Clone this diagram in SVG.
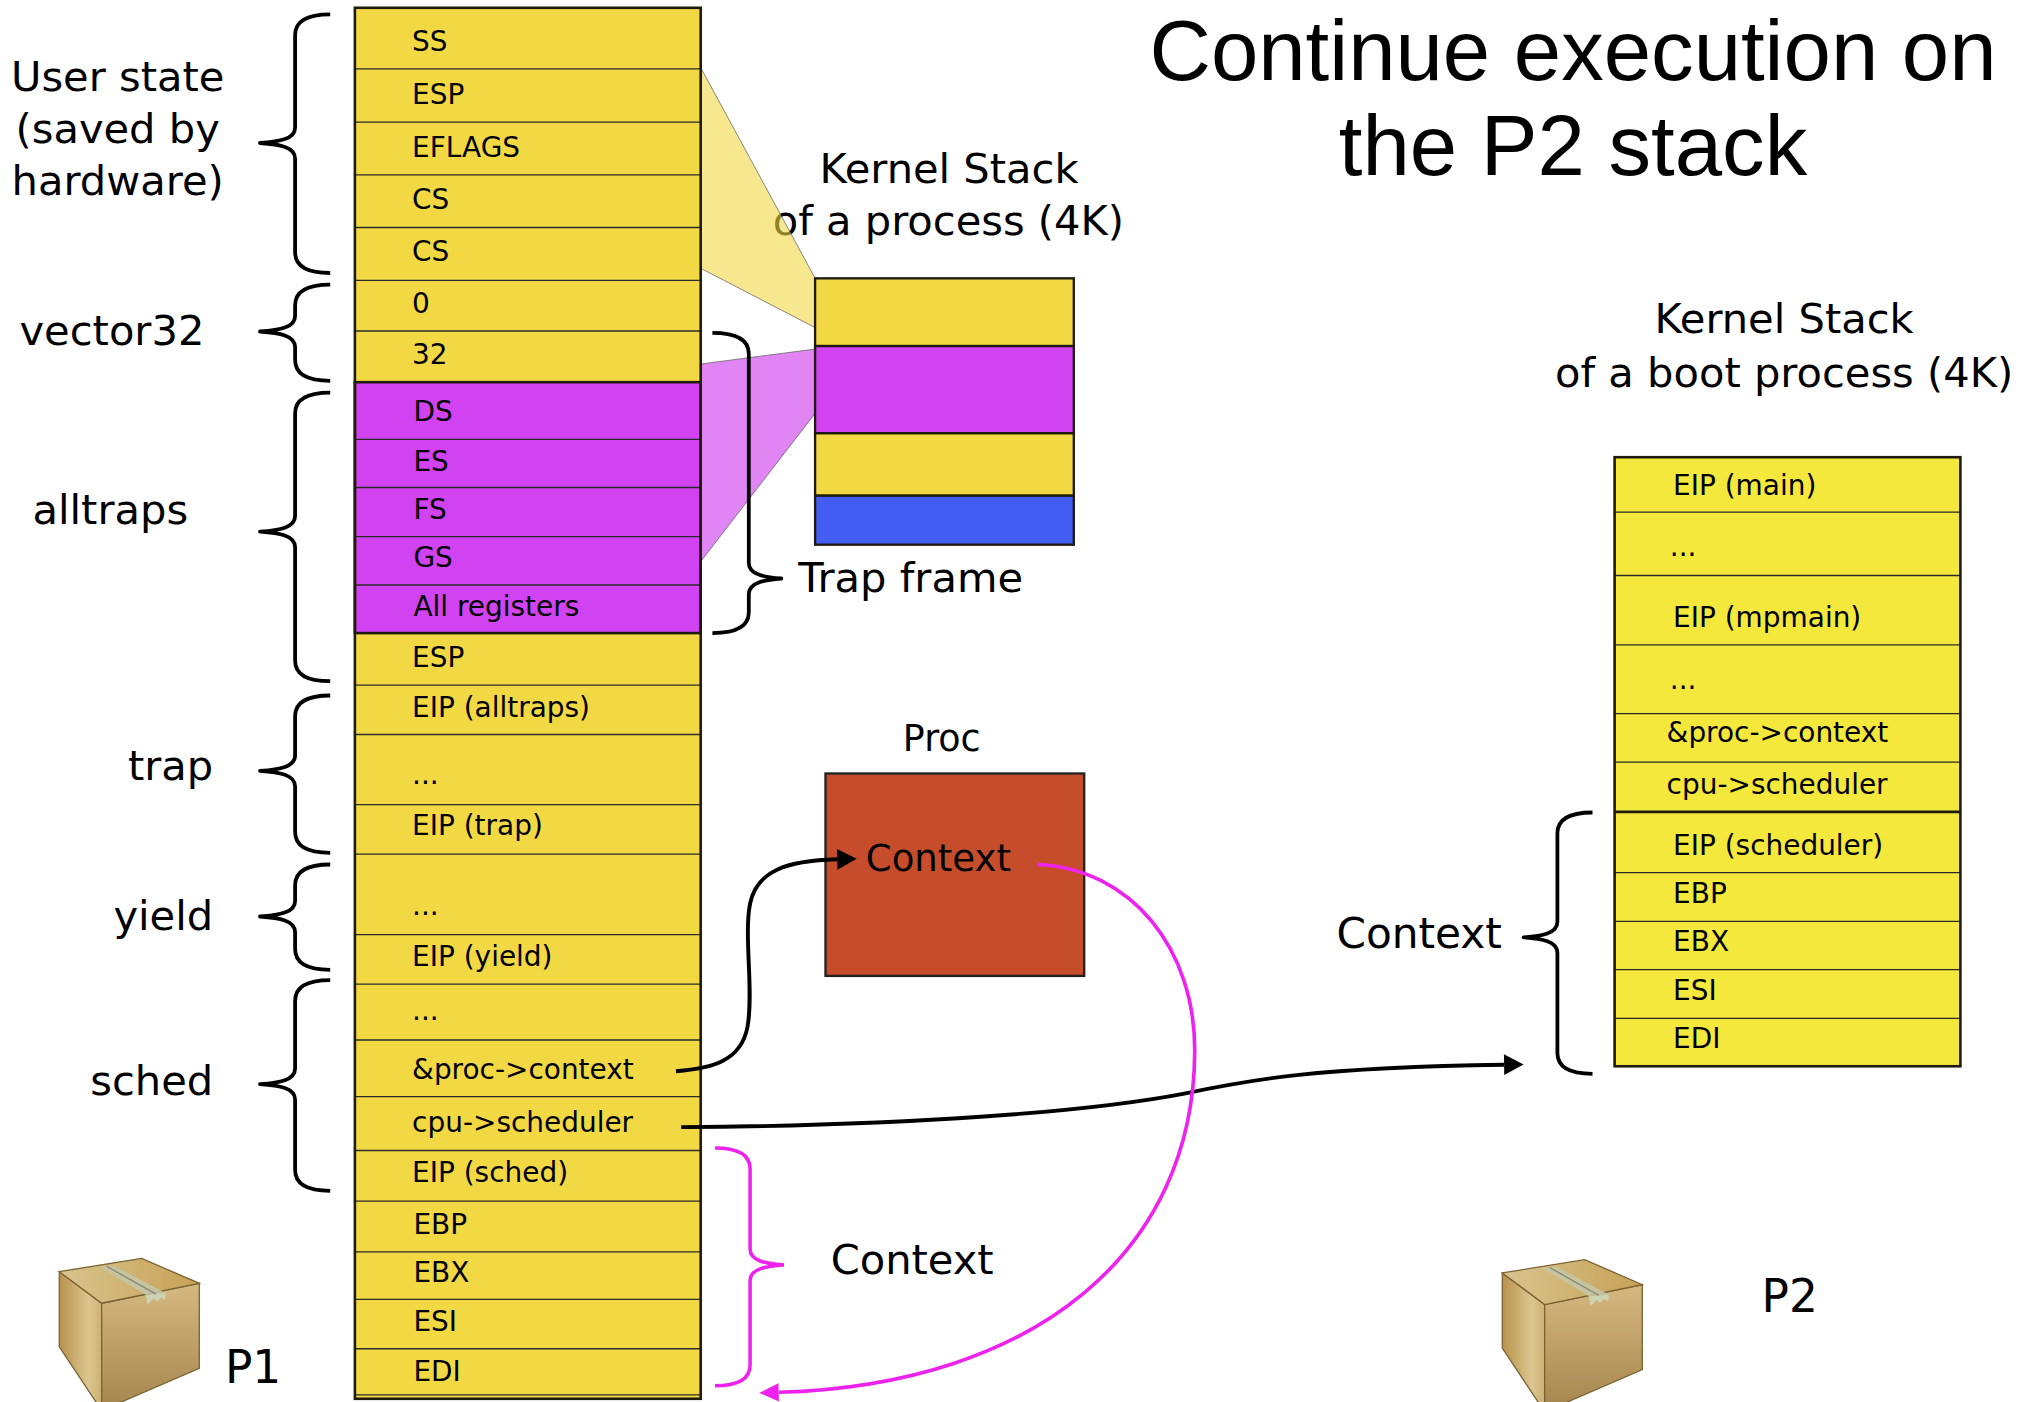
<svg xmlns="http://www.w3.org/2000/svg" width="2037" height="1402" viewBox="0 0 2037 1402">
<style>
.t{font-family:"DejaVu Sans","Noto Sans",sans-serif;fill:#000}
.row{font-size:21.5px}
.lbl{font-size:32px}
.title{font-family:"Liberation Sans",Arial,sans-serif;font-size:65.5px;text-anchor:middle;fill:#000}
.mid{text-anchor:middle}
.end{text-anchor:end}
.brace{fill:none;stroke:#000;stroke-width:2.9;stroke-linejoin:round}
.mbrace{fill:none;stroke:#ee22ee;stroke-width:2.7}
.ln{stroke:#2a2a2a;stroke-width:1}
.thick{stroke:#1e1a0e;stroke-width:2}
.cell{stroke:#1e1a0e;stroke-width:1.8}
.arrow{fill:none;stroke:#000;stroke-width:3}
.marrow{fill:none;stroke:#ee22ee;stroke-width:2.8}
</style>
<defs>
<marker id="ah" markerUnits="userSpaceOnUse" markerWidth="16" markerHeight="18" refX="0" refY="8" orient="auto" overflow="visible">
<path d="M0,0 L15,8 L0,16 z" fill="#000"/>
</marker>
<marker id="mah" markerUnits="userSpaceOnUse" markerWidth="16" markerHeight="18" refX="0" refY="7" orient="auto" overflow="visible">
<path d="M0,0 L15,7 L0,14 z" fill="#ee22ee"/>
</marker>
<linearGradient id="gTop" x1="0" y1="0" x2="1" y2="0">
<stop offset="0" stop-color="#d9c48f"/><stop offset="1" stop-color="#c6a255"/>
</linearGradient>
<linearGradient id="gLeft" x1="0" y1="0" x2="1" y2="0">
<stop offset="0" stop-color="#b8924c"/><stop offset="0.7" stop-color="#dcc690"/><stop offset="1" stop-color="#cdb073"/>
</linearGradient>
<linearGradient id="gFront" x1="0" y1="0" x2="0" y2="1">
<stop offset="0" stop-color="#d6b980"/><stop offset="1" stop-color="#a4854d"/>
</linearGradient>
<g id="box">
<polygon points="45.6,978.2 78.2,1002.5 78.2,1085 45.6,1036" fill="url(#gLeft)" stroke="#7a6232" stroke-width="1"/>
<polygon points="78.2,1002.5 153.3,987.2 153.3,1052.5 78.2,1085" fill="url(#gFront)" stroke="#7a6232" stroke-width="1"/>
<polygon points="45.6,978.2 109,968 153.3,987.2 78.2,1002.5" fill="url(#gTop)" stroke="#7a6232" stroke-width="1"/>
<polygon points="76.4,974.4 87.7,973.8 127.7,994.9 112.3,996.2" fill="#c4c6a6" opacity="0.9"/>
<polygon points="112.3,996.2 127.7,994.9 127,1000 124,998 121,1001 118,999 115,1002 113.3,1003" fill="#ccd4b4"/>
<line x1="82" y1="974" x2="120" y2="995.5" stroke="#8a8470" stroke-width="1"/>
</g>
</defs>
<rect width="2037" height="1402" fill="#fff"/>
<g transform="scale(1.3)">

<g id="title">
<text class="title" x="1210" y="61.5">Continue execution on</text>
<text class="title" x="1210" y="134.6">the P2 stack</text>
</g>

<g id="left-labels">
<text class="t lbl mid" x="90.5" y="69.8">User state</text>
<text class="t lbl mid" x="90.5" y="110">(saved by</text>
<text class="t lbl mid" x="90.5" y="150.3">hardware)</text>
<text class="t lbl" x="15" y="265.6">vector32</text>
<text class="t lbl" x="25" y="403">alltraps</text>
<text class="t lbl end" x="164" y="600.2">trap</text>
<text class="t lbl end" x="164" y="715.7">yield</text>
<text class="t lbl end" x="164" y="842.2">sched</text>
<path class="brace" d="M254,11 C238,11 227,15 227,27 L227,98 C227,107 215,109 200,110 C215,111 227,113 227,122 L227,194 C227,206 238,210 254,210"/>
<path class="brace" d="M254,219 C238,219 227,223 227,235 L227,243 C227,252 215,254 200,255 C215,256 227,258 227,267 L227,277 C227,289 238,293 254,293"/>
<path class="brace" d="M254,302 C238,302 227,306 227,318 L227,397 C227,406 215,408 200,409 C215,410 227,412 227,421 L227,508 C227,520 238,524 254,524"/>
<path class="brace" d="M254,535 C238,535 227,539 227,551 L227,581 C227,590 215,592 200,593 C215,594 227,596 227,605 L227,640 C227,652 238,656 254,656"/>
<path class="brace" d="M254,665 C238,665 227,669 227,681 L227,693 C227,702 215,704 200,705 C215,706 227,708 227,717 L227,730 C227,742 238,746 254,746"/>
<path class="brace" d="M254,754 C238,754 227,758 227,770 L227,822 C227,831 215,833 200,834 C215,835 227,837 227,846 L227,900 C227,912 238,916 254,916"/>
</g>

<g id="kernel-stack-label">
<text class="t lbl mid" x="730" y="140.5">Kernel Stack</text>
<text class="t lbl mid" x="729.5" y="180.5">of a process (4K)</text>
</g>

<g id="fans">
<polygon points="539,52 627,214 627,252 539,206.4" fill="#f2d944" fill-opacity="0.6" stroke="#666" stroke-width="0.6"/>
<polygon points="539,280 627,268.5 627,318 539,432" fill="#d143f0" fill-opacity="0.65" stroke="#666" stroke-width="0.6"/>
</g>

<g id="p1-stack">
<rect x="273" y="6" width="266" height="1070" fill="#f2d944"/>
<rect x="273" y="294" width="266" height="193" fill="#d143f0"/>
<g class="ln">
<line x1="273" y1="53" x2="539" y2="53"/>
<line x1="273" y1="94" x2="539" y2="94"/>
<line x1="273" y1="134.5" x2="539" y2="134.5"/>
<line x1="273" y1="175" x2="539" y2="175"/>
<line x1="273" y1="215.7" x2="539" y2="215.7"/>
<line x1="273" y1="254.6" x2="539" y2="254.6"/>
<line x1="273" y1="338" x2="539" y2="338"/>
<line x1="273" y1="375" x2="539" y2="375"/>
<line x1="273" y1="412.8" x2="539" y2="412.8"/>
<line x1="273" y1="450" x2="539" y2="450"/>
<line x1="273" y1="527" x2="539" y2="527"/>
<line x1="273" y1="565" x2="539" y2="565"/>
<line x1="273" y1="619" x2="539" y2="619"/>
<line x1="273" y1="657" x2="539" y2="657"/>
<line x1="273" y1="719" x2="539" y2="719"/>
<line x1="273" y1="757" x2="539" y2="757"/>
<line x1="273" y1="800" x2="539" y2="800"/>
<line x1="273" y1="843.6" x2="539" y2="843.6"/>
<line x1="273" y1="885" x2="539" y2="885"/>
<line x1="273" y1="924" x2="539" y2="924"/>
<line x1="273" y1="963" x2="539" y2="963"/>
<line x1="273" y1="999.5" x2="539" y2="999.5"/>
<line x1="273" y1="1037.5" x2="539" y2="1037.5"/>
<line x1="273" y1="1073" x2="539" y2="1073"/>
</g>
<rect x="273" y="294" width="266" height="193" fill="none" class="thick"/>
<rect x="273" y="6" width="266" height="1070" fill="none" class="thick"/>
<g class="t row">
<text x="317" y="39.6">SS</text>
<text x="317" y="79.8">ESP</text>
<text x="317" y="120.4">EFLAGS</text>
<text x="317" y="160.6">CS</text>
<text x="317" y="201">CS</text>
<text x="317" y="241">0</text>
<text x="317" y="280">32</text>
<text x="318" y="324">DS</text>
<text x="318" y="362">ES</text>
<text x="318" y="399">FS</text>
<text x="318" y="436">GS</text>
<text x="318" y="474">All registers</text>
<text x="317" y="513">ESP</text>
<text x="317" y="551.5">EIP (alltraps)</text>
<text x="317" y="603">...</text>
<text x="317" y="642">EIP (trap)</text>
<text x="317" y="704">...</text>
<text x="317" y="743">EIP (yield)</text>
<text x="317" y="785">...</text>
<text x="317" y="830">&amp;proc-&gt;context</text>
<text x="317" y="871">cpu-&gt;scheduler</text>
<text x="317" y="909">EIP (sched)</text>
<text x="318" y="949">EBP</text>
<text x="318" y="986">EBX</text>
<text x="318" y="1024">ESI</text>
<text x="318" y="1062">EDI</text>
</g>
</g>

<g id="kernel-stack">
<rect x="627" y="214.1" width="199" height="52.1" fill="#f2d944" class="cell"/>
<rect x="627" y="266.2" width="199" height="67.1" fill="#d143f0" class="cell"/>
<rect x="627" y="333.3" width="199" height="48" fill="#f2d944" class="cell"/>
<rect x="627" y="381.3" width="199" height="37.7" fill="#435cf2" class="cell"/>
</g>

<g id="trap-frame">
<path class="brace" d="M548,256 C564,256 576,260 576,272 L576,433 C576,442 588,444 601,445 C588,446 576,448 576,457 L576,471 C576,483 564,487 548,487"/>
<text class="t lbl" x="614" y="455.6">Trap frame</text>
</g>

<g id="p1-context">
<path class="mbrace" d="M550,883 C566,883 577,887 577,899 L577,961 C577,970 589,972 603,973 C589,974 577,976 577,985 L577,1050 C577,1062 566,1066 550,1066"/>
<text class="t lbl" x="639" y="980">Context</text>
</g>

<g id="proc">
<text class="t mid" x="724.4" y="577.5" style="font-size:28px">Proc</text>
<rect x="635" y="595" width="199" height="155.7" fill="#c64d2b" stroke="#222" stroke-width="1.8"/>
<text class="t" x="666" y="670" style="font-size:28.5px">Context</text>
</g>

<g id="boot-stack">
<text class="t lbl mid" x="1372.4" y="256.4">Kernel Stack</text>
<text class="t lbl mid" x="1372.4" y="297.4">of a boot process (4K)</text>
<rect x="1242" y="351.7" width="266" height="468.5" fill="#f4e83c"/>
<g class="ln">
<line x1="1242" y1="393.9" x2="1508" y2="393.9"/>
<line x1="1242" y1="442.7" x2="1508" y2="442.7"/>
<line x1="1242" y1="496.1" x2="1508" y2="496.1"/>
<line x1="1242" y1="549" x2="1508" y2="549"/>
<line x1="1242" y1="586.2" x2="1508" y2="586.2"/>
<line x1="1242" y1="671.2" x2="1508" y2="671.2"/>
<line x1="1242" y1="708.8" x2="1508" y2="708.8"/>
<line x1="1242" y1="745.9" x2="1508" y2="745.9"/>
<line x1="1242" y1="783.4" x2="1508" y2="783.4"/>
</g>
<line x1="1242" y1="624.5" x2="1508" y2="624.5" class="thick"/>
<rect x="1242" y="351.7" width="266" height="468.5" fill="none" class="thick"/>
<g class="t row">
<text x="1287" y="381">EIP (main)</text>
<text x="1284.5" y="428">...</text>
<text x="1287" y="482.3">EIP (mpmain)</text>
<text x="1284.5" y="530">...</text>
<text x="1282" y="571">&amp;proc-&gt;context</text>
<text x="1282" y="610.8">cpu-&gt;scheduler</text>
<text x="1287" y="657.5">EIP (scheduler)</text>
<text x="1287" y="695">EBP</text>
<text x="1287" y="731.7">EBX</text>
<text x="1287" y="769.3">ESI</text>
<text x="1287" y="806.4">EDI</text>
</g>
</g>

<g id="boot-context">
<path class="brace" d="M1225,625 C1209,625 1198,629 1198,641 L1198,709 C1198,718 1186,720 1172,721 C1186,722 1198,724 1198,733 L1198,810 C1198,822 1209,826 1225,826"/>
<text class="t" x="1028" y="729" style="font-size:32.5px">Context</text>
</g>

<g id="p1">
<use href="#box"/>
<text class="t" x="173" y="1064" style="font-size:35px">P1</text>
</g>
<g id="p2">
<use href="#box" transform="translate(1110,1)"/>
<text class="t" x="1355" y="1009" style="font-size:35px">P2</text>
</g>

<g id="connectors">
<path class="arrow" d="M520,824 C548,822 570,816 575,790 C580,762 572,720 577,695 C582,670 605,662 644,661" marker-end="url(#ah)"/>
<path class="arrow" d="M524,867 C700,866 840,855 912,841 C960,831 1010,821 1157,819" marker-end="url(#ah)"/>
<path class="marrow" d="M798,665 C870,668 920,730 919,810 C918,960 800,1065 599,1071" marker-end="url(#mah)"/>
</g>

</g>
</svg>
